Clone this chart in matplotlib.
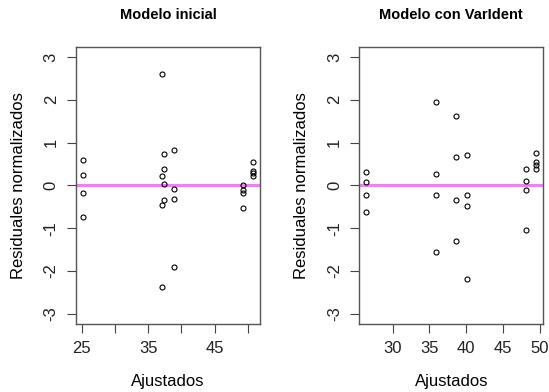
import matplotlib
matplotlib.use("Agg")
import matplotlib.pyplot as plt

plt.rcParams['font.family'] = ['Liberation Sans', 'DejaVu Sans']

# Modelo inicial
fit1 = [25.15, 25.15, 25.15, 25.15,
        37.14, 37.34, 37.34, 37.14, 37.34, 37.34, 37.14, 37.14,
        38.85, 38.85, 38.85, 38.85,
        49.3, 49.3, 49.3, 49.3,
        50.8, 50.8, 50.8, 50.8]
res1 = [0.585, 0.246, -0.185, -0.746,
        2.60, 0.738, 0.377, 0.223, 0.038, -0.354, -0.46, -2.385,
        0.815, -0.077, -0.308, -1.90,
        0.015, -0.10, -0.19, -0.54,
        0.54, 0.33, 0.28, 0.22]

# Modelo con VarIdent
fit2 = [26.4, 26.4, 26.4, 26.4,
        35.83, 35.83, 35.83, 35.83,
        38.54, 38.54, 38.54, 38.54,
        40.09, 40.09, 40.09, 40.09,
        48.16, 48.16, 48.16, 48.16,
        49.52, 49.52, 49.52, 49.52]
res2 = [0.31, 0.077, -0.23, -0.615,
        1.94, 0.254, -0.23, -1.56,
        1.61, 0.66, -0.34, -1.31,
        0.715, -0.23, -0.49, -2.18,
        0.377, 0.10, -0.108, -1.054,
        0.746, 0.54, 0.477, 0.385]

titles = ["Modelo inicial", "Modelo con VarIdent"]
xticks1 = [25, 30, 35, 40, 45, 50]
xlabels1 = ["25", "", "35", "", "45", ""]
xticks2 = [30, 35, 40, 45, 50]
xlabels2 = ["30", "35", "40", "45", "50"]
yticks = [-3, -2, -1, 0, 1, 2, 3]

W, H = 549, 392
fig = plt.figure(figsize=(W/100, H/100), dpi=100)
bottom = (H - 324) / H
height = (324 - 46.7) / H
ax1 = fig.add_axes([76/W, bottom, 184/W, height])
ax2 = fig.add_axes([359.3/W, bottom, 184/W, height])

def pad(vals):
    lo, hi = min(vals), max(vals)
    r = hi - lo
    return lo - 0.04*r, hi + 0.04*r

for ax, fx, rs, title, xt, xl in [(ax1, fit1, res1, titles[0], xticks1, xlabels1),
                                   (ax2, fit2, res2, titles[1], xticks2, xlabels2)]:
    ax.plot(fx, rs, 'o', mfc='none', mec='black', ms=3.6, mew=0.8, zorder=3)
    ax.axhline(0, color='#EE82EE', lw=2.3, zorder=2)
    ax.set_xlim(*pad(fx))
    ax.set_ylim(-3.24, 3.24)
    ax.set_xticks(xt)
    ax.set_xticklabels(xl)
    ax.set_yticks(yticks)
    ax.set_yticklabels([str(v) for v in yticks], rotation=90, va='center')
    ax.tick_params(axis='both', length=6.5, width=0.8, color='#444444',
                   labelsize=12, labelcolor='#222222', pad=6)
    for s in ax.spines.values():
        s.set_color('#555555')
        s.set_linewidth(1.0)
    ax.set_title(title, fontsize=10.5, fontweight='bold', pad=20)
    ax.set_xlabel("Ajustados", fontsize=12, labelpad=13)
    ax.set_ylabel("Residuales normalizados", fontsize=12, labelpad=13)

fig.savefig("out.png", dpi=100)
